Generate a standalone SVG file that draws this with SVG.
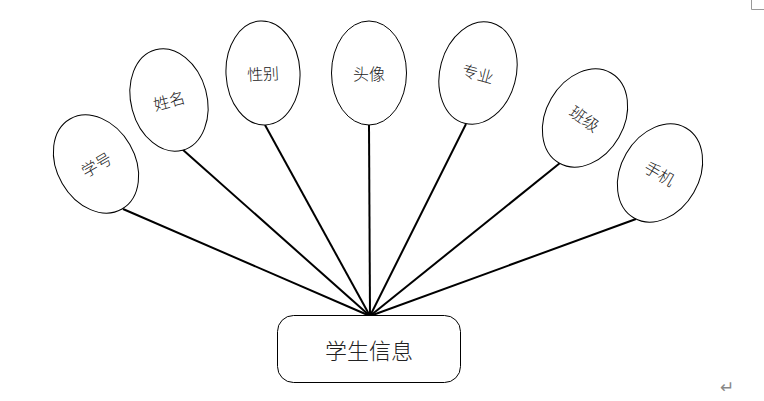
<svg xmlns="http://www.w3.org/2000/svg" width="764" height="401" viewBox="0 0 764 401">
<style>
.attr ellipse{fill:#fff;stroke:#000;stroke-width:1}
.lbl{font-family:"Noto Sans CJK SC","Noto Sans",sans-serif;font-size:16px;font-weight:300;fill:#222;text-anchor:middle;dominant-baseline:central}
.conn line{stroke:#000;stroke-width:2}
.mark{stroke:#999;stroke-width:1;fill:none}
</style>
<rect width="764" height="401" fill="#fff"/>
<path class="mark" d="M751.5 0V9.5H764"/>
<g class="conn">
<line x1="123" y1="209" x2="370" y2="316"/>
<line x1="182" y1="149" x2="370" y2="316"/>
<line x1="265" y1="125" x2="370" y2="316"/>
<line x1="369" y1="125" x2="370" y2="316"/>
<line x1="466" y1="124" x2="370" y2="316"/>
<line x1="560" y1="163" x2="370" y2="316"/>
<line x1="636" y1="219" x2="370" y2="316"/>
</g>
<g id="n-xuehao" class="attr" transform="translate(96 164) rotate(-30)"><ellipse rx="39" ry="52"/><text class="lbl" x="0" y="0">学号</text></g>
<g id="n-xingming" class="attr" transform="translate(169 100) rotate(-15)"><ellipse rx="38" ry="52"/><text class="lbl" x="0" y="0">姓名</text></g>
<g id="n-xingbie" class="attr" transform="translate(263 73) rotate(-3)"><ellipse rx="37" ry="52"/><text class="lbl" x="0" y="0">性别</text></g>
<g id="n-touxiang" class="attr" transform="translate(369 73)"><ellipse rx="37.5" ry="52"/><text class="lbl" x="0" y="0">头像</text></g>
<g id="n-zhuanye" class="attr" transform="translate(478 73) rotate(15)"><ellipse rx="38" ry="52"/><text class="lbl" x="0" y="0">专业</text></g>
<g id="n-banji" class="attr" transform="translate(585 118) rotate(30)"><ellipse rx="39" ry="52"/><text class="lbl" x="0" y="0" transform="rotate(5)">班级</text></g>
<g id="n-shouji" class="attr" transform="translate(660 173) rotate(30)"><ellipse rx="39" ry="52"/><text class="lbl" x="0" y="0">手机</text></g>
<g id="n-xueshengxinxi"><rect x="277.5" y="315.5" width="183" height="67" rx="16" fill="#fff" stroke="#000" stroke-width="1"/><text class="lbl" x="369" y="349" style="font-size:22px">学生信息</text></g>
<text x="727" y="387" style="font-family:'DejaVu Sans',sans-serif;font-size:17px;fill:#888;text-anchor:middle;dominant-baseline:central">↵</text>
</svg>
